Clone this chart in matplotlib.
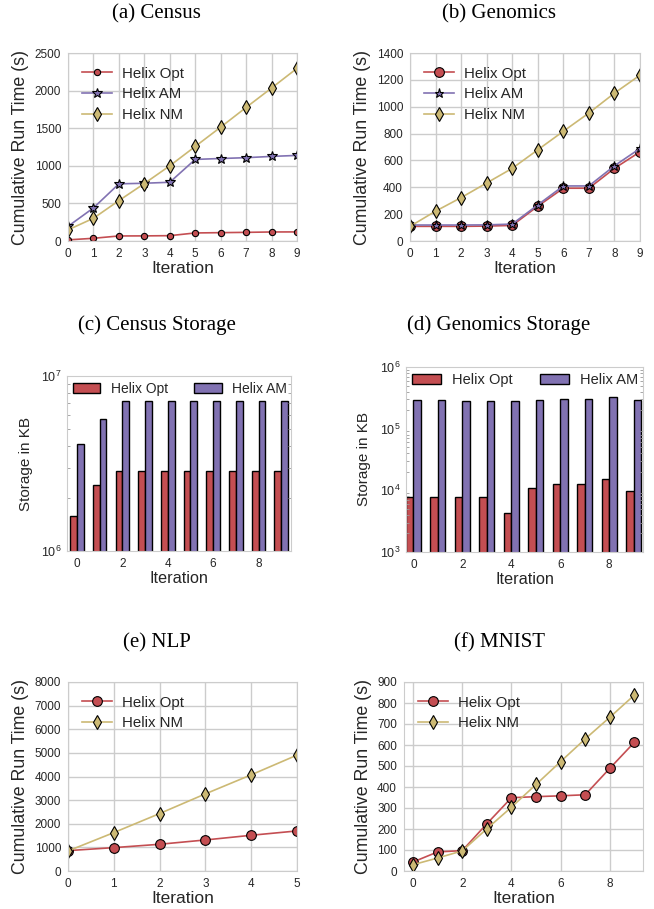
import numpy as np
import matplotlib
matplotlib.use("Agg")
import matplotlib.pyplot as plt

# colours (seaborn "deep", old palette)
RED = "#C44E52"
PURPLE = "#8172B2"
GOLD = "#CCB974"

iters10 = np.arange(10)
iters6 = np.arange(6)

# (a) Census cumulative run time
census_opt = [15, 36, 67, 68, 71, 107, 111, 115, 120, 121]
census_am = [195, 440, 760, 768, 781, 1085, 1097, 1108, 1125, 1138]
census_nm = [148, 302, 537, 764, 1000, 1257, 1514, 1776, 2034, 2296]

# (b) Genomics cumulative run time
gen_opt = [109, 109, 109, 111, 116, 259, 393, 393, 541, 664]
gen_am = [119, 119, 119, 120, 126, 269, 410, 410, 560, 689]
gen_nm = [109, 222, 323, 432, 541, 679, 817, 953, 1101, 1235]

# (c) Census storage (KB)
census_st_opt = [1.58e6, 2.39e6, 2.87e6, 2.87e6, 2.87e6, 2.87e6, 2.87e6, 2.87e6, 2.87e6, 2.87e6]
census_st_am = [4.1e6, 5.7e6, 7.17e6, 7.17e6, 7.17e6, 7.17e6, 7.17e6, 7.17e6, 7.17e6, 7.17e6]

# (d) Genomics storage (KB)
gen_st_opt = [7.9e3, 7.9e3, 7.9e3, 7.9e3, 4.3e3, 1.08e4, 1.27e4, 1.27e4, 1.53e4, 9.6e3]
gen_st_am = [2.88e5, 2.88e5, 2.85e5, 2.85e5, 2.8e5, 2.95e5, 3.0e5, 3.0e5, 3.26e5, 2.9e5]

# (e) NLP
nlp_opt = [862, 989, 1131, 1314, 1512, 1696]
nlp_nm = [848, 1625, 2431, 3265, 4071, 4905]

# (f) MNIST
mnist_opt = [43, 91, 97, 225, 349, 354, 358, 363, 489, 613]
mnist_nm = [30, 62, 96, 201, 304, 412, 521, 629, 732, 838]

plt.rcParams["font.family"] = ["Liberation Sans", "DejaVu Sans"]
plt.rcParams["text.color"] = ".15"
plt.rcParams["axes.labelcolor"] = ".15"
plt.rcParams["xtick.color"] = ".15"
plt.rcParams["ytick.color"] = ".15"
plt.rcParams["mathtext.fontset"] = "custom"
plt.rcParams["mathtext.rm"] = "Liberation Sans"

W, H = 654, 909
fig = plt.figure(figsize=(W / 100, H / 100), dpi=100)


def make_ax(left, right, top, bottom):
    return fig.add_axes([left / W, 1 - bottom / H, (right - left) / W, (bottom - top) / H])


def style_lines(ax):
    ax.grid(True, color="#cccccc", lw=1)
    ax.set_axisbelow(True)
    for s in ax.spines.values():
        s.set_color("#cccccc")
    ax.tick_params(length=0, labelsize=8.5, pad=5)
    ax.set_xlabel("Iteration", fontsize=12.5, labelpad=1)
    ax.set_ylabel("Cumulative Run Time (s)", fontsize=12.8, labelpad=4)


def style_bars(ax):
    for s in ax.spines.values():
        s.set_color("#cccccc")
    ax.tick_params(axis="x", length=0, labelsize=8.5, pad=5)
    ax.tick_params(axis="y", which="major", length=0, labelsize=9, pad=4)
    ax.tick_params(axis="y", which="minor", length=2.5, color="#999999",
                   direction="in", left=True, right=True, width=0.6)
    ax.set_xlabel("Iteration", fontsize=11.7, labelpad=1)
    ax.set_ylabel("Storage in KB", fontsize=11, labelpad=6)


def title(x, y, s):
    fig.text(x / W, 1 - y / H, s, ha="center", va="center",
             family="Liberation Serif", fontsize=15, color="black")


mk = dict(mec="black", mew=0.8, lw=1.2)

# (a)
ax = make_ax(68, 297, 53, 241)
ax.plot(iters10, census_opt, "o", ls="-", color=RED, ms=4.5, label="Helix Opt", **mk)
ax.plot(iters10, census_am, "*", ls="-", color=PURPLE, ms=7, label="Helix AM", **mk)
ax.plot(iters10, census_nm, "d", ls="-", color=GOLD, ms=7.5, label="Helix NM", **mk)
ax.set_xlim(0, 9)
ax.set_ylim(0, 2500)
ax.set_xticks(iters10)
ax.set_yticks(np.arange(0, 2501, 500))
style_lines(ax)
ax.legend(loc="upper left", frameon=False, fontsize=10.8, handletextpad=0.7, labelspacing=0.45)
title(156, 14, "(a) Census")

# (b)
ax = make_ax(410, 640, 53, 241)
ax.plot(iters10, gen_opt, "o", ls="-", color=RED, ms=7, label="Helix Opt", **mk)
ax.plot(iters10, gen_am, "*", ls="-", color=PURPLE, ms=6.5, label="Helix AM", **mk)
ax.plot(iters10, gen_nm, "d", ls="-", color=GOLD, ms=7.5, label="Helix NM", **mk)
ax.set_xlim(0, 9)
ax.set_ylim(0, 1400)
ax.set_xticks(iters10)
ax.set_yticks(np.arange(0, 1401, 200))
style_lines(ax)
ax.legend(loc="upper left", frameon=False, fontsize=10.8, handletextpad=0.7, labelspacing=0.45)
title(499, 14, "(b) Genomics")

# (c)
ax = make_ax(67, 291, 376, 551)
ax.bar(iters10 - 0.3, census_st_opt, width=0.3, align="edge", color=RED,
       edgecolor="black", lw=1, label="Helix Opt")
ax.bar(iters10, census_st_am, width=0.3, align="edge", color=PURPLE,
       edgecolor="black", lw=1, label="Helix AM")
ax.set_yscale("log")
ax.set_ylim(1e6, 1e7)
ax.set_xlim(-0.44, 9.43)
ax.set_xticks([0, 2, 4, 6, 8])
style_bars(ax)
ax.legend(loc="upper left", ncol=2, frameon=False, fontsize=10, borderaxespad=0.1,
          borderpad=0.3, columnspacing=1.9, handletextpad=0.75)
title(157, 325, "(c) Census Storage")

# (d)
ax = make_ax(406, 643, 367, 552)
ax.bar(iters10 - 0.3, gen_st_opt, width=0.3, align="edge", color=RED,
       edgecolor="black", lw=1, label="Helix Opt")
ax.bar(iters10, gen_st_am, width=0.3, align="edge", color=PURPLE,
       edgecolor="black", lw=1, label="Helix AM")
ax.set_yscale("log")
ax.set_ylim(1e3, 1e6)
ax.set_xlim(-0.3, 9.38)
ax.set_xticks([0, 2, 4, 6, 8])
style_bars(ax)
ax.legend(loc="upper left", ncol=2, frameon=False, fontsize=10.5, borderaxespad=0.1,
          borderpad=0.3, columnspacing=1.9, handletextpad=0.75)
title(499, 325, "(d) Genomics Storage")

# (e)
ax = make_ax(68, 297, 682, 871)
ax.plot(iters6, nlp_opt, "o", ls="-", color=RED, ms=7, label="Helix Opt", **mk)
ax.plot(iters6, nlp_nm, "d", ls="-", color=GOLD, ms=7.5, label="Helix NM", **mk)
ax.set_xlim(0, 5)
ax.set_ylim(0, 8000)
ax.set_xticks(iters6)
ax.set_yticks(np.arange(0, 8001, 1000))
style_lines(ax)
ax.legend(loc="upper left", frameon=False, fontsize=10.8, handletextpad=0.7, labelspacing=0.45)
title(157, 643, "(e) NLP")

# (f)
ax = make_ax(404, 643, 682, 871)
ax.plot(iters10, mnist_opt, "o", ls="-", color=RED, ms=7, label="Helix Opt", **mk)
ax.plot(iters10, mnist_nm, "d", ls="-", color=GOLD, ms=7.5, label="Helix NM", **mk)
ax.set_xlim(-0.37, 9.35)
ax.set_ylim(0, 900)
ax.set_xticks([0, 2, 4, 6, 8])
ax.set_yticks(np.arange(0, 901, 100))
style_lines(ax)
ax.legend(loc="upper left", frameon=False, fontsize=10.8, handletextpad=0.7, labelspacing=0.45)
title(499, 643, "(f) MNIST")

fig.savefig("out.png", dpi=100)
